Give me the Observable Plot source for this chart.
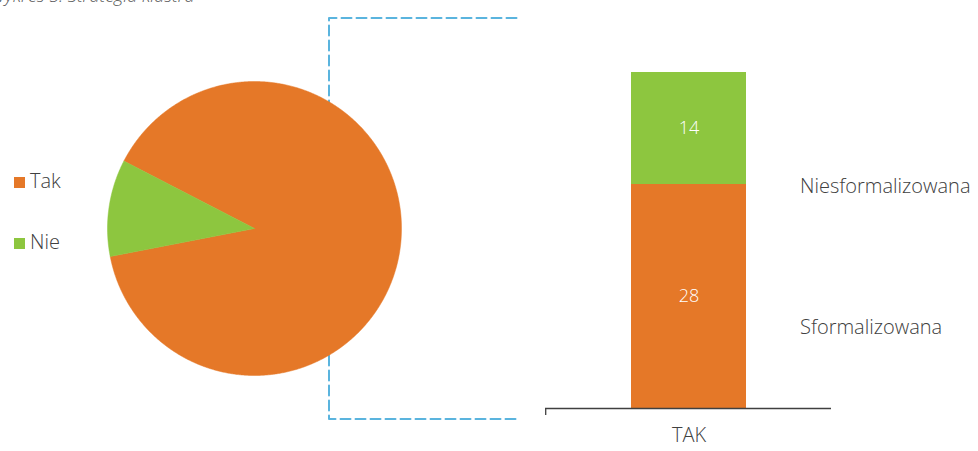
<!DOCTYPE html>
<html>
<head>
<meta charset="utf-8">
<script src="https://cdn.jsdelivr.net/npm/d3@7"></script>
<script src="https://cdn.jsdelivr.net/npm/@observablehq/plot@0.6"></script>
<style>
  html, body { margin: 0; padding: 0; background: #fff; }
  #root { position: relative; width: 978px; height: 451px; overflow: hidden; font-family: "Open Sans", sans-serif; color: #404040; font-weight: 300; }
  .abs { position: absolute; }
  .title { left: -10px; top: -17px; font-size: 18px; font-style: italic; color: #595959; white-space: nowrap; }
  .leg { font-size: 20px; line-height: 20px; white-space: nowrap; }
  .sw { display: inline-block; width: 11px; height: 11px; margin-right: 5px; }
  .slabel { font-size: 20px; line-height: 20px; white-space: nowrap; }
</style>
</head>
<body>
<div id="root"></div>
<script>
// ---- data ----
const title = "Wykres 5. Strategia klastra";
const pieLabels = ["Tak", "Nie"];
const pieValues = [42, 5];
const pieColors = ["#E57828", "#8DC63F"];
const barCategories = ["TAK"];
const barSeries = ["Sformalizowana", "Niesformalizowana"];
const barValues = [28, 14];
const barColors = ["#E57828", "#8DC63F"];

const root = document.getElementById("root");

// title (partly cut off at top like the reference)
const t = document.createElement("div");
t.className = "abs title";
t.textContent = title;
root.appendChild(t);

// connector dashed lines (decoration)
const connector = Plot.plot({
  width: 978, height: 451, margin: 0,
  x: {domain: [0, 978], axis: null},
  y: {domain: [0, 451], range: [0, 451], axis: null},
  marks: [
    Plot.line([[516, 17.5], [328.5, 17.5], [328.5, 418.5], [516, 418.5]], {
      stroke: "#5AB4DE", strokeWidth: 2, strokeDasharray: "10,5"
    })
  ]
});
connector.style.position = "absolute"; connector.style.left = "0px"; connector.style.top = "0px";
root.appendChild(connector);

// pie built from the values
const rot = 297.3 * Math.PI / 180;
const arcs = d3.pie().sort(null).startAngle(rot).endAngle(rot + 2 * Math.PI)(pieValues);
const piePts = [];
arcs.forEach((a, i) => {
  const label = pieLabels[i];
  piePts.push({label, x: 0, y: 0});
  const n = Math.max(2, Math.ceil((a.endAngle - a.startAngle) / (0.4 * Math.PI / 180)));
  for (let k = 0; k <= n; k++) {
    const ang = a.startAngle + (a.endAngle - a.startAngle) * k / n;
    piePts.push({label, x: Math.sin(ang), y: Math.cos(ang)});
  }
  piePts.push({label, x: 0, y: 0});
});
const R = 147, S = 300;
const pie = Plot.plot({
  width: S, height: S, margin: 0,
  x: {domain: [-S / 2 / R, S / 2 / R], axis: null},
  y: {domain: [-S / 2 / R, S / 2 / R], axis: null},
  color: {domain: pieLabels, range: pieColors},
  marks: [
    Plot.line(piePts, {x: "x", y: "y", z: "label", fill: "label", stroke: "label", strokeWidth: 0.5, curve: "linear"})
  ]
});
pie.style.position = "absolute"; pie.style.left = (253.5 - S / 2) + "px"; pie.style.top = (228 - S / 2) + "px";
root.appendChild(pie);

// pie legend
const legTops = [171, 232];
pieLabels.forEach((l, i) => {
  const d = document.createElement("div");
  d.className = "abs leg";
  d.style.left = "14px"; d.style.top = legTops[i] + "px";
  d.innerHTML = `<span class="sw" style="background:${pieColors[i]}"></span>${l}`;
  root.appendChild(d);
});

// stacked bar
const rows = barSeries.map((s, i) => ({cat: barCategories[0], series: s, value: barValues[i]}));
const bar = Plot.plot({
  width: 433, height: 451,
  marginLeft: 0, marginRight: 147, marginTop: 72, marginBottom: 43,
  style: {fontFamily: "Open Sans", fontSize: "18px", color: "#404040"},
  x: {domain: barCategories, padding: 0.427, label: null},
  y: {domain: [0, 42], axis: null},
  color: {domain: barSeries, range: barColors},
  marks: [
    Plot.barY(rows, {x: "cat", y: "value", z: "series", fill: "series", order: barSeries}),
    Plot.text(rows, Plot.stackY({x: "cat", y: "value", z: "series", text: d => String(d.value), order: barSeries, fill: "white", fontSize: 18, fontWeight: 300})),
    Plot.ruleY([0], {stroke: "#404040", strokeWidth: 1.3}),
    Plot.axisX({tickSize: 0, tickPadding: 19, fontSize: 20, fill: "#404040", fontWeight: 300})
  ]
});
bar.style.position = "absolute"; bar.style.left = "545px"; bar.style.top = "0px";
root.appendChild(bar);
// small left edge tick on the category axis
d3.select(bar).append("line")
  .attr("x1", 0.7).attr("x2", 0.7).attr("y1", 408).attr("y2", 415)
  .attr("stroke", "#404040").attr("stroke-width", 1.3);

// series labels on the right (legend)
const sTops = {Niesformalizowana: 176, Sformalizowana: 317};
[...barSeries].reverse().forEach(s => {
  const d = document.createElement("div");
  d.className = "abs slabel";
  d.style.left = "800px"; d.style.top = sTops[s] + "px";
  d.textContent = s;
  root.appendChild(d);
});
</script>
</body>
</html>
